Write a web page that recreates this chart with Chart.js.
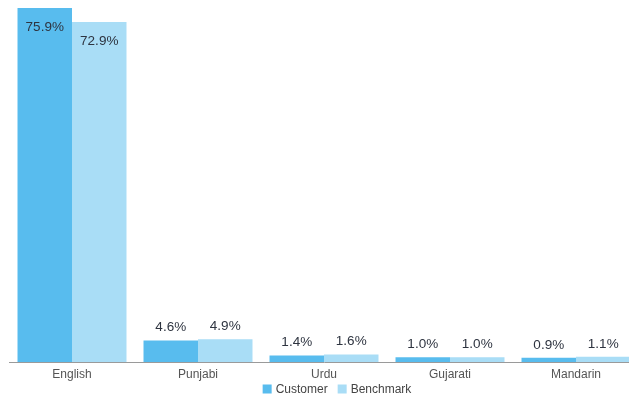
<!DOCTYPE html>
<html><head><meta charset="utf-8">
<script src="https://cdn.jsdelivr.net/npm/chart.js@4"></script>
<style>
html,body{margin:0;padding:0;overflow:hidden;background:#fff;width:629px;height:397px}
#wrap{position:absolute;left:0;top:0;width:674px;height:397px}
</style></head>
<body><div id="wrap"><canvas id="c"></canvas></div>
<script>
const categories = ["English","Punjabi","Urdu","Gujarati","Mandarin"];
const customerValues = [75.9,4.6,1.4,1.0,0.9];
const benchmarkValues = [72.9,4.9,1.6,1.0,1.1];
const seriesNames = ["Customer","Benchmark"];
const seriesColors = ['#58bcee','#a9ddf6'];

const FONT = '"Liberation Sans", Arial, sans-serif';
const labelPlugin = {
  id:'vlabels',
  afterDatasetsDraw(chart){
    const ctx = chart.ctx;
    ctx.save();
    ctx.font = '13.5px ' + FONT;
    ctx.fillStyle = '#2e3440';
    ctx.textAlign = 'center';
    ctx.textBaseline = 'middle';
    chart.data.datasets.forEach((ds,di)=>{
      chart.getDatasetMeta(di).data.forEach((bar,i)=>{
        const h = bar.base - bar.y;
        const txt = ds.data[i].toFixed(1)+'%';
        const y = h > 40 ? bar.y + 19 : bar.y - 13;
        ctx.fillText(txt, bar.x, y);
      });
    });
    ctx.restore();
  }
};

const legendPlugin = {
  id:'mylegend',
  afterDraw(chart){
    const ctx = chart.ctx;
    ctx.save();
    ctx.font = '12px ' + FONT;
    ctx.textBaseline = 'middle';
    ctx.textAlign = 'left';
    const box = 9, gapBT = 4, gapItems = 10;
    const items = chart.data.datasets.map(d=>({label:d.label,color:d.backgroundColor,w:ctx.measureText(d.label).width}));
    let total = 0;
    items.forEach((it,k)=>{ total += box + gapBT + it.w + (k? gapItems:0); });
    const cx = 337, cy = 389;
    let x = cx - total/2;
    items.forEach((it,k)=>{
      if(k) x += gapItems;
      ctx.fillStyle = it.color;
      ctx.fillRect(x, cy - box/2, box, box);
      x += box + gapBT;
      ctx.fillStyle = '#444';
      ctx.fillText(it.label, x, cy + 0.5);
      x += it.w;
    });
    ctx.restore();
  }
};

new Chart(document.getElementById('c'),{
  type:'bar',
  data:{labels:categories,datasets:[
    {label:seriesNames[0],data:customerValues,backgroundColor:seriesColors[0],borderWidth:0},
    {label:seriesNames[1],data:benchmarkValues,backgroundColor:seriesColors[1],borderWidth:0}
  ]},
  options:{
    responsive:true,maintainAspectRatio:false,animation:false,
    devicePixelRatio:1,
    layout:{padding:{left:9,right:35,top:0,bottom:9}},
    datasets:{bar:{categoryPercentage:0.865,barPercentage:1}},
    plugins:{
      legend:{display:false},
      tooltip:{enabled:false}
    },
    scales:{
      x:{grid:{display:false,drawTicks:false,tickLength:0},border:{display:true,color:'#9a9a9a'},
         ticks:{color:'#555',padding:7,font:{size:12,lineHeight:1,family:FONT}}},
      y:{display:false,min:0,max:77.6}
    }
  },
  plugins:[labelPlugin,legendPlugin]
});
</script></body></html>
